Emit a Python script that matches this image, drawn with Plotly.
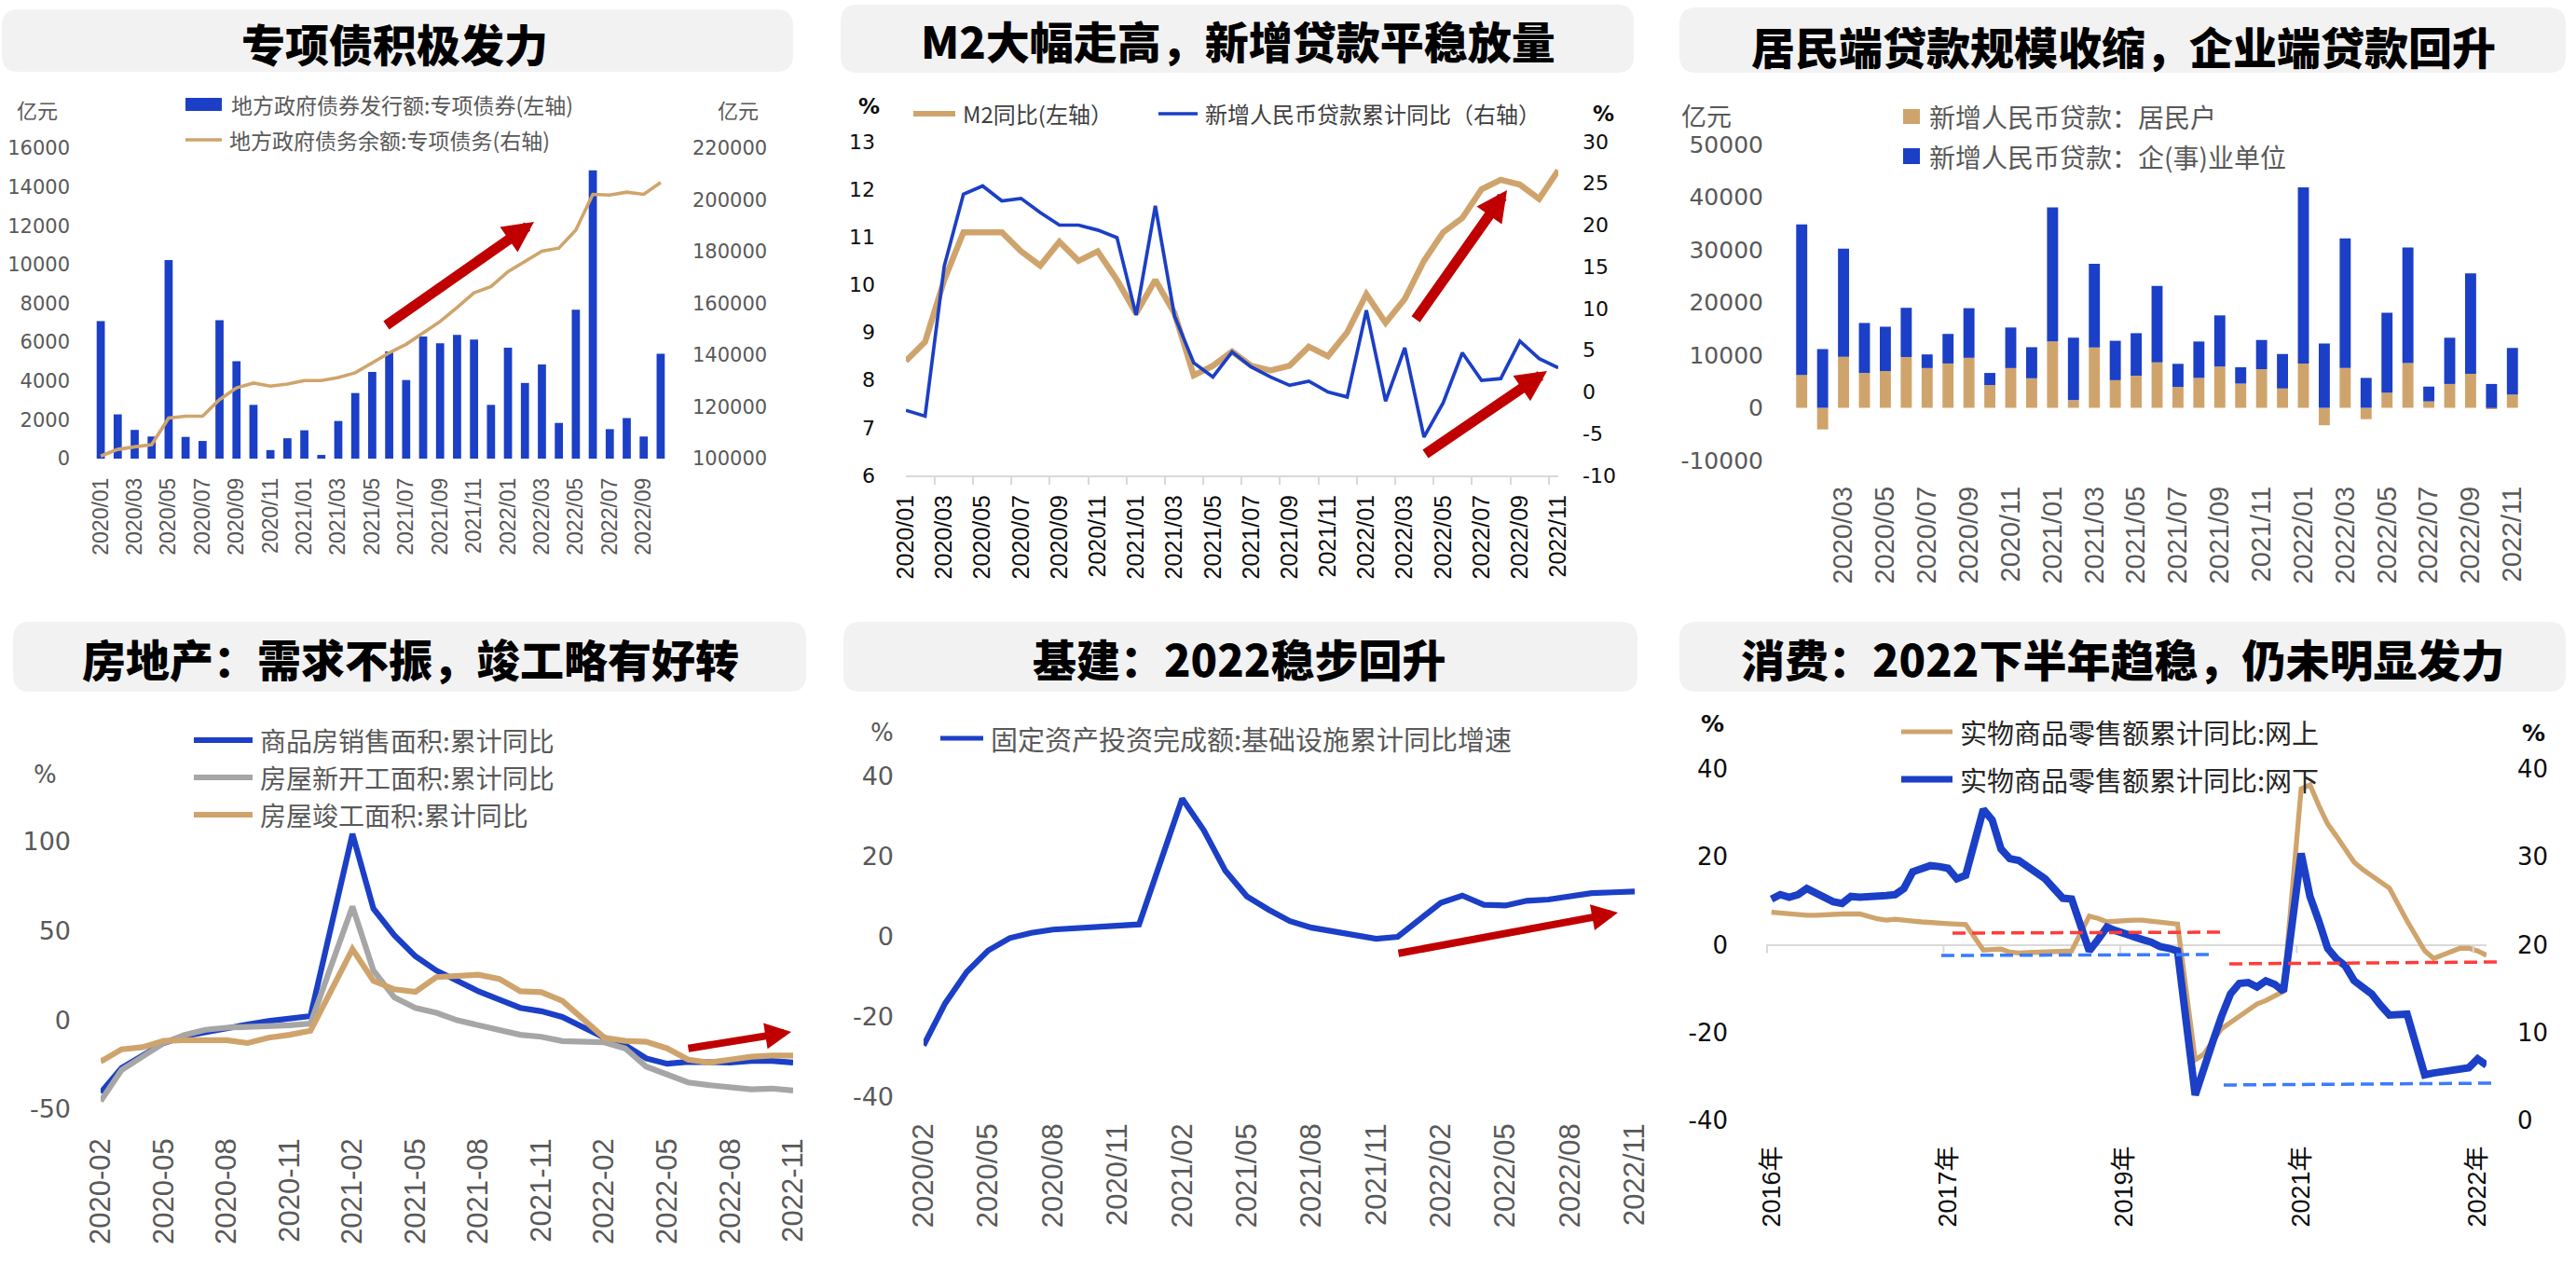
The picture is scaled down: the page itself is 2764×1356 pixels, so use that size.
import plotly.graph_objects as go

W, H = 2764, 1356


def fx(p):
    return p / W


def fy(p):
    return 1 - p / H


BLUE = "#1B3FC6"
TAN = "#CFA46C"
GREY_LINE = "#A6A6A6"
RED = "#C00000"
TXT_GREY = "#595959"
TXT_BLACK = "#0D0D0D"
NUM_FONT = "DejaVu Sans, Noto Sans CJK SC, sans-serif"
XLAB_FONT = "Liberation Sans, Noto Sans CJK SC, sans-serif"
CJK_FONT = "Noto Sans CJK SC, sans-serif"

# ---------------- data ----------------
months_20_22 = [f"{y}/{m:02d}" for y in (2020, 2021, 2022) for m in range(1, 13)]

# panel 1: special bonds
months1 = months_20_22[:34]
issuance = [7090, 2280, 1480, 1140, 10240, 1120, 910, 7140, 5020, 2770, 440, 1050,
            1460, 190, 1940, 3380, 4470, 5530, 4050, 6290, 5950, 6380, 6140, 2770,
            5720, 3900, 4850, 1840, 7680, 14860, 1520, 2090, 1140, 5400]
balance = [101000, 103560, 104560, 105400, 115700, 116400, 116400, 122800, 127360, 129200,
           128000, 128800, 130200, 130200, 131350, 133200, 137050, 140900, 144200, 148600,
           153000, 158400, 164100, 166550, 172250, 176240, 180230, 181370, 188350, 202170,
           201900, 203000, 202170, 206730]

# panel 2: M2 and loans
months2 = months_20_22[:35]
m2_yoy = [8.4, 8.8, 10.1, 11.1, 11.1, 11.1, 10.7, 10.4, 10.9, 10.5, 10.7, 10.1,
          9.4, 10.1, 9.4, 8.1, 8.3, 8.6, 8.3, 8.2, 8.3, 8.7, 8.5, 9.0,
          9.8, 9.2, 9.7, 10.5, 11.1, 11.4, 12.0, 12.2, 12.1, 11.8, 12.4]
loan_yoy = [-2.2, -2.9, 15.1, 23.7, 24.7, 22.9, 23.2, 21.5, 20.0, 20.0, 19.4, 18.5,
            9.2, 22.3, 9.1, 3.5, 1.8, 4.8, 3.0, 1.8, 0.8, 1.3, 0.0, -0.6,
            9.8, -1.1, 5.3, -5.4, -1.3, 4.7, 1.4, 1.6, 6.1, 4.0, 2.9]

# panel 3: new loans by sector
months3 = months_20_22[:35]
loan_household = [6260, -4100, 9710, 6620, 6980, 9640, 7550, 8420, 9500, 4320, 7550, 5610,
                  12590, 1440, 11440, 5250, 6110, 8630, 3960, 5680, 7840, 4600, 7340, 3670,
                  8420, -3310, 7550, -2160, 2880, 8490, 1220, 4530, 6470, -190, 2520]
loan_corporate = [28560, 11150, 20500, 9490, 8420, 9350, 2590, 5610, 9420, 2300, 7700, 5900,
                  25470, 11870, 15900, 7480, 8060, 14530, 4390, 6910, 9710, 3100, 5540, 6550,
                  33450, 12230, 24610, 5680, 15180, 21940, 2810, 8780, 19070, 4530, 8850]

# panel 4: real estate
months4 = [m.replace("/", "-") for m in months_20_22[1:35]]
sales_area = [-40.7, -26.8, -19.9, -12.9, -9.0, -6.7, -4.3, -2.5, -0.6, 0.5, 2.2, None,
              104.2, 62.4, 47.4, 35.7, 27.7, 21.9, 16.1, 11.4, 6.8, 4.9, 1.7, None,
              -9.9, -14.1, -21.5, -24.5, -23.4, -23.8, -23.8, -22.9, -22.9, -23.8]
new_starts = [-45.4, -28.0, -20.5, -12.9, -8.3, -5.5, -4.3, -4.1, -3.6, -2.9, -2.0, None,
              63.6, 27.7, 12.6, 6.8, 4.0, -0.2, -2.9, -5.3, -8.3, -9.4, -11.8, None,
              -12.5, -15.9, -26.1, -30.8, -35.0, -36.5, -37.7, -38.8, -38.4, -39.5]
completions = [-23.3, -16.4, -15.2, -11.7, -11.3, -11.7, -11.3, -12.9, -9.9, -8.3, -6.0, None,
               39.7, 21.9, 17.2, 15.8, 24.0, 24.7, 25.4, 23.0, 16.1, 15.6, 10.7, None,
               -9.9, -11.7, -12.2, -15.9, -22.2, -23.8, -22.2, -20.6, -19.9, -19.9]

# panel 5: infrastructure
months5 = months_20_22[1:35]
infra_yoy = [-27.1, -16.6, -8.8, -3.4, -0.3, 1.0, 1.8, 2.1, 2.6, 3.0, 3.1, None,
             34.5, 26.6, 16.5, 10.1, 6.8, 3.9, 2.3, 1.3, 0.5, -0.5, 0.0, None,
             8.5, 10.3, 8.0, 7.8, 9.0, 9.3, 10.1, 10.9, 11.1, 11.3]

# panel 6: consumption (2016-02 .. 2022-11)
months6 = [f"{y}-{m:02d}" for y in range(2016, 2023) for m in range(1, 13)][1:83]
retail_online = [7.4, 7.2, 6.9, 6.7, 6.7, 6.7, 6.8, 7.1, 7.0, 7.0, 7.0, None,
                 5.9, 5.6, 5.8, 5.7, 5.4, 5.2, 5.0, 4.9, 4.8, 4.7, 4.6, None,
                 -1.2, -1.2, -1.0, -1.7, -1.9, -1.8, -1.7, -1.7, -1.6, -1.4, -1.4, None,
                 6.5, 6.0, 5.2, 5.4, 5.6, 5.6, 5.6, 5.4, 5.2, 4.9, 4.7, None,
                 -26.2, -24.9, -21.9, -19.1, -17.7, -16.3, -14.9, -13.5, -12.7, -11.8, -10.6, None,
                 35.5, 36.4, 31.7, 27.5, 24.7, 21.8, 18.8, 17.1, 15.7, 14.3, 12.9, None,
                 5.4, 1.9, -1.4, -3.1, -2.4, -1.5, -0.8, -0.8, -1.4, -2.4]
retail_offline = [25.2, 25.7, 25.4, 25.7, 26.4, 25.9, 25.3, 24.9, 24.7, 25.5, 25.4, None,
                  25.4, 25.6, 25.7, 26.4, 28.3, 28.7, 29.0, 28.9, 28.7, 27.5, 27.9, None,
                  35.4, 34.2, 30.9, 29.8, 29.6, 28.9, 28.4, 27.5, 26.4, 25.3, 25.2, None,
                  19.3, 20.6, 22.0, 21.6, 21.2, 20.8, 20.6, 20.3, 19.8, 19.6, 19.3, None,
                  2.9, 6.2, 9.0, 11.9, 14.4, 15.6, 15.7, 15.2, 15.9, 15.5, 14.7, None,
                  30.4, 25.5, 22.7, 19.6, 18.4, 17.6, 15.9, 15.1, 14.4, 13.1, 12.0, None,
                  12.1, 8.8, 5.2, 5.4, 5.5, 5.6, 5.7, 6.0, 7.0, 6.3]
year_tick_idx = [0, 20, 40, 60, 80]

titles = ["专项债积极发力", "M2大幅走高，新增贷款平稳放量", "居民端贷款规模收缩，企业端贷款回升",
          "房地产：需求不振，竣工略有好转", "基建：2022稳步回升", "消费：2022下半年趋稳，仍未明显发力"]

# ---------------- traces ----------------
fig = go.Figure()
fig.add_trace(go.Bar(x=months1, y=issuance, name="地方政府债券发行额:专项债券(左轴)",
                     marker=dict(color=BLUE, line=dict(width=0)), width=0.48,
                     xaxis="x", yaxis="y"))
fig.add_trace(go.Scatter(x=months1, y=balance, name="地方政府债务余额:专项债务(右轴)",
                         mode="lines", line=dict(color=TAN, width=3.6), xaxis="x", yaxis="y2"))

fig.add_trace(go.Scatter(x=months2, y=m2_yoy, name="M2同比(左轴）", mode="lines",
                         line=dict(color=TAN, width=6.5), xaxis="x3", yaxis="y3"))
fig.add_trace(go.Scatter(x=months2, y=loan_yoy, name="新增人民币贷款累计同比（右轴）", mode="lines",
                         line=dict(color=BLUE, width=3.7), xaxis="x3", yaxis="y4"))

fig.add_trace(go.Bar(x=months3, y=loan_household, name="新增人民币贷款：居民户",
                     marker=dict(color=TAN, line=dict(width=0)), width=0.53, xaxis="x5", yaxis="y5"))
fig.add_trace(go.Bar(x=months3, y=loan_corporate, name="新增人民币贷款：企(事)业单位",
                     marker=dict(color=BLUE, line=dict(width=0)), width=0.53, xaxis="x5", yaxis="y5"))

for ys, nm, col in [(sales_area, "商品房销售面积:累计同比", BLUE),
                    (new_starts, "房屋新开工面积:累计同比", GREY_LINE),
                    (completions, "房屋竣工面积:累计同比", TAN)]:
    fig.add_trace(go.Scatter(x=months4, y=ys, name=nm, mode="lines", connectgaps=True,
                             line=dict(color=col, width=6.2), xaxis="x6", yaxis="y6"))

fig.add_trace(go.Scatter(x=months5, y=infra_yoy, name="固定资产投资完成额:基础设施累计同比增速",
                         mode="lines", connectgaps=True, line=dict(color=BLUE, width=6.2),
                         xaxis="x7", yaxis="y7"))

fig.add_trace(go.Scatter(x=months6, y=retail_online, name="实物商品零售额累计同比:网上",
                         mode="lines", connectgaps=True, line=dict(color=TAN, width=5.3),
                         xaxis="x8", yaxis="y8"))
fig.add_trace(go.Scatter(x=months6, y=retail_offline, name="实物商品零售额累计同比:网下",
                         mode="lines", connectgaps=True, line=dict(color=BLUE, width=8),
                         xaxis="x8", yaxis="y9"))


# ---------------- axes ----------------
def xax(l, r, anchor, tickvals, size, color, standoff, ticktext=None, **kw):
    d = dict(domain=[fx(l), fx(r)], anchor=anchor, type="category", tickmode="array",
             tickvals=tickvals, tickangle=-90, showgrid=False, zeroline=False,
             showline=False, ticks="", ticklabelstandoff=standoff, automargin=False,
             tickfont=dict(family=XLAB_FONT, size=size, color=color))
    if ticktext is not None:
        d["ticktext"] = ticktext
    d.update(kw)
    return d


def yax(bottom, top, anchor, rng, vals, size, color, standoff, **kw):
    d = dict(domain=[fy(bottom), fy(top)], anchor=anchor, range=rng, tickmode="array",
             tickvals=vals, ticktext=[str(v) for v in vals], showgrid=False,
             zeroline=False, showline=False, ticks="", ticklabelstandoff=standoff,
             automargin=False, tickfont=dict(family=NUM_FONT, size=size, color=color))
    d.update(kw)
    return d


def yright(over, anchor, rng, vals, size, color, standoff):
    return dict(overlaying=over, side="right", anchor=anchor, range=rng, tickmode="array",
                tickvals=vals, ticktext=[str(v) for v in vals], showgrid=False,
                zeroline=False, showline=False, ticks="", ticklabelstandoff=standoff,
                automargin=False, tickfont=dict(family=NUM_FONT, size=size, color=color))


layout_axes = dict(
    xaxis=xax(99, 718, "y", months1[::2], 23, TXT_GREY, 15),
    yaxis=yax(492, 159, "x", [0, 16000], list(range(0, 16001, 2000)), 21, TXT_GREY, 23),
    yaxis2=yright("y", "x", [100000, 220000], list(range(100000, 220001, 20000)), 21, TXT_GREY, 24),
    xaxis3=xax(972, 1672, "y3", months2[::2], 25, TXT_BLACK, 9, showline=True,
               linecolor="#D9D9D9", linewidth=2, ticks="outside", tickson="boundaries",
               ticklen=8, tickwidth=2, tickcolor="#D9D9D9"),
    yaxis3=yax(510, 152, "x3", [6, 13], list(range(6, 14)), 22, TXT_BLACK, 32),
    yaxis4=yright("y3", "x3", [-10, 30], list(range(-10, 31, 5)), 22, TXT_BLACK, 25),
    xaxis5=xax(1922, 2707, "y5", months3[2::2], 29, TXT_GREY, 21),
    yaxis5=yax(494, 155, "x5", [-10000, 50000], list(range(-10000, 50001, 10000)), 25, TXT_GREY, 29),
    xaxis6=xax(108, 851, "y6", months4[::3], 31, TXT_GREY, 24),
    yaxis6=yax(1190, 874, "x6", [-50, 115], [-50, 0, 50, 100], 27, TXT_GREY, 31),
    xaxis7=xax(991, 1754, "y7", months5[::3], 31, TXT_GREY, 21),
    yaxis7=yax(1177, 833, "x7", [-40, 40], [-40, -20, 0, 20, 40], 27, TXT_GREY, 31),
    xaxis8=xax(1895, 2668, "y8", [months6[i] for i in year_tick_idx], 27, TXT_BLACK, 21,
               ticktext=[months6[i][:4] + "年" for i in year_tick_idx]),
    yaxis8=yax(1202, 825, "x8", [-40, 40], [-40, -20, 0, 20, 40], 26, TXT_BLACK, 40,
               zeroline=True, zerolinecolor="#D9D9D9", zerolinewidth=2),
    yaxis9=yright("y8", "x8", [0, 40], [0, 10, 20, 30, 40], 26, TXT_BLACK, 32),
)

# ---------------- decorations ----------------
shapes = []
annotations = []


def rounded_box(L, T, R, B, r=18, color="#F2F2F2"):
    p = (f"M{fx(L + r)},{fy(T)} L{fx(R - r)},{fy(T)} Q{fx(R)},{fy(T)} {fx(R)},{fy(T + r)} "
         f"L{fx(R)},{fy(B - r)} Q{fx(R)},{fy(B)} {fx(R - r)},{fy(B)} L{fx(L + r)},{fy(B)} "
         f"Q{fx(L)},{fy(B)} {fx(L)},{fy(B - r)} L{fx(L)},{fy(T + r)} Q{fx(L)},{fy(T)} {fx(L + r)},{fy(T)} Z")
    shapes.append(dict(type="path", path=p, xref="paper", yref="paper", fillcolor=color,
                       line=dict(width=0), layer="below"))


def text(x, y, s, size, color, anchor="center", family=CJK_FONT, weight="normal"):
    annotations.append(dict(x=fx(x), y=fy(y), xref="paper", yref="paper", text=s,
                            showarrow=False, xanchor=anchor, yanchor="middle",
                            font=dict(family=family, size=size, color=color, weight=weight)))


def legend_line(x0, x1, y, color, width, label, size, tcolor):
    shapes.append(dict(type="line", xref="paper", yref="paper", x0=fx(x0), x1=fx(x1),
                       y0=fy(y), y1=fy(y), line=dict(color=color, width=width)))
    text(x1 + 6, y, label, size, tcolor, anchor="left")


def legend_box(x0, x1, y0, y1, color, label, size, tcolor):
    shapes.append(dict(type="rect", xref="paper", yref="paper", x0=fx(x0), x1=fx(x1),
                       y0=fy(y1), y1=fy(y0), fillcolor=color, line=dict(width=0)))
    text(x1 + 8, (y0 + y1) / 2, label, size, tcolor, anchor="left")


def arrow(tail, tip, width, size):
    annotations.append(dict(x=fx(tip[0]), y=fy(tip[1]), xref="paper", yref="paper",
                            ax=tail[0] - tip[0], ay=tail[1] - tip[1], axref="pixel", ayref="pixel",
                            text="", showarrow=True, arrowhead=2, arrowsize=size,
                            arrowwidth=width, arrowcolor=RED))


def dashed(x0, y0, x1, y1, color):
    shapes.append(dict(type="line", xref="paper", yref="paper", x0=fx(x0), x1=fx(x1),
                       y0=fy(y0), y1=fy(y1), line=dict(color=color, width=3.5, dash="14px,7px")))


# title boxes + titles
boxes = [(2, 10, 851, 77), (902, 5, 1753, 78), (1802, 8, 2753, 78),
         (14, 667, 865, 742), (905, 667, 1757, 742), (1802, 667, 2753, 742)]
centers = [(423, 46), (1328, 42), (2278, 48), (440, 705), (1330, 705), (2278, 705)]
for (L, T, R, B), (cx, cy), t in zip(boxes, centers, titles):
    rounded_box(L, T, R, B)
    text(cx, cy, t, 47, "#000000", weight=900)

# panel 1
text(40, 117, "亿元", 22, TXT_GREY)
text(792, 117, "亿元", 22, TXT_GREY)
legend_box(199, 238, 105, 119, BLUE, "地方政府债券发行额:专项债券(左轴)", 23, TXT_GREY)
legend_line(199, 238, 150, TAN, 3.6, "地方政府债务余额:专项债务(右轴)", 23, TXT_GREY)
arrow((413, 350), (573, 238), 11, 0.6)

# panel 2
text(932, 114, "%", 23, TXT_BLACK, weight="bold", family=NUM_FONT)
text(1720, 122, "%", 23, TXT_BLACK, weight="bold", family=NUM_FONT)
legend_line(980, 1025, 122, TAN, 6, "M2同比(左轴）", 24, "#404040")
legend_line(1243, 1285, 122, BLUE, 3.7, "新增人民币贷款累计同比（右轴）", 24, "#404040")
arrow((1518, 344), (1617, 204), 11, 0.6)
arrow((1528, 488), (1660, 398), 11, 0.6)

# panel 3
text(1831, 124, "亿元", 27, TXT_GREY)
legend_box(2042, 2060, 117, 133, TAN, "新增人民币贷款：居民户", 28, TXT_GREY)
legend_box(2042, 2060, 159, 176, BLUE, "新增人民币贷款：企(事)业单位", 28, TXT_GREY)

# panel 4
text(49, 831, "%", 26, TXT_GREY, family=NUM_FONT)
legend_line(208, 271, 794, BLUE, 6, "商品房销售面积:累计同比", 28, TXT_GREY)
legend_line(208, 271, 834, GREY_LINE, 6, "房屋新开工面积:累计同比", 28, TXT_GREY)
legend_line(208, 271, 874, TAN, 6, "房屋竣工面积:累计同比", 28, TXT_GREY)
arrow((737, 1125), (849, 1107), 8, 0.7)

# panel 5
text(946, 786, "%", 26, TXT_GREY, family=NUM_FONT)
legend_line(1009, 1055, 792, BLUE, 5, "固定资产投资完成额:基础设施累计同比增速", 29, TXT_GREY)
arrow((1499, 1023), (1736, 979), 8, 0.7)

# panel 6
text(1838, 776, "%", 25, TXT_BLACK, weight="bold", family=NUM_FONT)
text(2718, 786, "%", 25, TXT_BLACK, weight="bold", family=NUM_FONT)
legend_line(2040, 2095, 785, TAN, 5, "实物商品零售额累计同比:网上", 29, "#262626")
legend_line(2040, 2095, 836, BLUE, 7, "实物商品零售额累计同比:网下", 29, "#262626")
for b in (-0.5, 19.5, 39.5, 59.5, 79.5):
    shapes.append(dict(type="line", xref="x8", yref="y8", x0=b, x1=b, ysizemode="pixel",
                       yanchor=0, y0=0, y1=-9, line=dict(color="#D9D9D9", width=2)))
dashed(2095, 1001, 2385, 1000, "#FF3B3B")
dashed(2083, 1025, 2375, 1024, "#3A7BFF")
dashed(2392, 1034, 2683, 1032, "#FF3B3B")
dashed(2386, 1164, 2677, 1162, "#3A7BFF")

fig.update_layout(
    width=W, height=H, margin=dict(l=0, r=0, t=0, b=0, pad=0, autoexpand=False),
    paper_bgcolor="white", plot_bgcolor="rgba(0,0,0,0)",
    showlegend=False, barmode="relative",
    font=dict(family=CJK_FONT, color=TXT_GREY),
    shapes=shapes, annotations=annotations,
    **layout_axes,
)

fig.write_html("out.html")
